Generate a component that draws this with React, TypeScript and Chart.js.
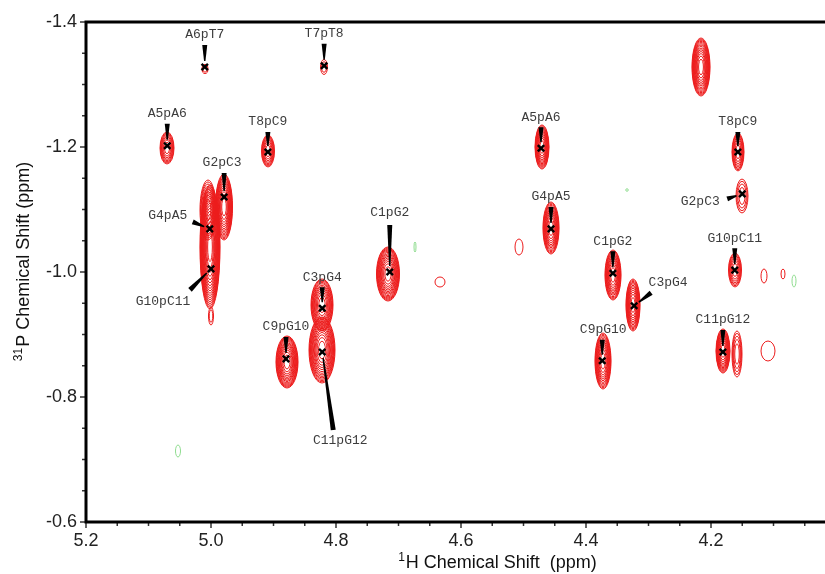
import { useEffect, useRef } from "react";
import { Chart, registerables } from "chart.js";

Chart.register(...registerables);

// ---- Axis ranges and tick labels (ppm) ----
const xRange = [4.0176, 5.2];
const yRange = [-1.4, -0.6];
const xTickValues = [5.2, 5.0, 4.8, 4.6, 4.4, 4.2];
const xTickLabels = ["5.2", "5.0", "4.8", "4.6", "4.4", "4.2"];
const yTickValues = [-1.4, -1.2, -1.0, -0.8, -0.6];
const yTickLabels = ["-1.4", "-1.2", "-1.0", "-0.8", "-0.6"];
const minorStep = 0.05;

// ---- Assigned cross peaks (1H, 31P in ppm) ----
const peakNames = [
  "A6pT7", "T7pT8", "A5pA6", "T8pC9", "G2pC3", "G4pA5", "G10pC11", "C1pG2", "C3pG4", "C11pG12",
  "C9pG10", "A5pA6", "G4pA5", "C1pG2", "C3pG4", "C9pG10", "T8pC9", "G2pC3", "G10pC11", "C11pG12",
];
const peakShiftH = [
  5.010, 4.819, 5.070, 4.909, 4.979, 5.002, 5.000, 4.714, 4.822, 4.822,
  4.880, 4.472, 4.456, 4.357, 4.323, 4.374, 4.157, 4.150, 4.162, 4.181,
];
const peakShiftP = [
  -1.328, -1.330, -1.202, -1.192, -1.120, -1.069, -1.005, -1.000, -0.942, -0.872,
  -0.861, -1.198, -1.069, -0.998, -0.946, -0.858, -1.192, -1.125, -1.003, -0.872,
];

// ---- Contoured signals: centre, half widths (ppm), number of levels, sign ----
const contourShiftH = [
  5.0096, 4.8192, 5.0704, 4.9088, 4.9792, 5.0016, 5.0048, 5.0, 4.7168, 4.8224,
  4.8224, 4.8784, 4.6336, 4.4704, 4.456, 4.5072, 4.3568, 4.3248, 4.3728, 4.216,
  4.1568, 4.1504, 4.1616, 4.1808, 4.1584, 4.1152, 4.0848, 4.1088,
  5.0528, 4.6736, 4.0672, 4.3344,
];
const contourShiftP = [
  -1.3248, -1.328, -1.1984, -1.1936, -1.104, -1.04, -1.0992, -0.9296, -0.9968, -0.9472,
  -0.8752, -0.856, -0.984, -1.2, -1.0704, -1.04, -0.9952, -0.9472, -0.8576, -1.328,
  -1.192, -1.1216, -1.0032, -0.8736, -0.8688, -0.9936, -0.9968, -0.8736,
  -0.7136, -1.04, -0.9856, -1.1312,
];
const contourHalfH = [
  0.0048, 0.0056, 0.0112, 0.0104, 0.0136, 0.016, 0.0128, 0.004, 0.0184, 0.0176,
  0.0208, 0.0176, 0.008, 0.0112, 0.0128, 0.0064, 0.0128, 0.0112, 0.0128, 0.0144,
  0.0096, 0.0096, 0.0104, 0.0112, 0.008, 0.0048, 0.0032, 0.0112,
  0.004, 0.0016, 0.0032, 0.002,
];
const contourHalfP = [
  0.0072, 0.012, 0.0256, 0.0256, 0.0528, 0.0992, 0.048, 0.0144, 0.0432, 0.0416,
  0.0528, 0.0416, 0.008, 0.0352, 0.0416, 0.0128, 0.04, 0.0416, 0.0448, 0.0464,
  0.0304, 0.0272, 0.0272, 0.0352, 0.0368, 0.0112, 0.008, 0.016,
  0.0096, 0.008, 0.0096, 0.002,
];
const contourLevels = [
  2, 2, 8, 8, 14, 18, 8, 2, 14, 12,
  14, 14, 1, 12, 12, 1, 12, 12, 12, 14,
  8, 4, 7, 12, 5, 1, 1, 1,
  1, 1, 1, 1,
];
const contourSign = [
  1, 1, 1, 1, 1, 1, 1, 1, 1, 1,
  1, 1, 1, 1, 1, 1, 1, 1, 1, 1,
  1, 1, 1, 1, 1, 1, 1, 1,
  -1, -1, -1, -1,
];

// ---- Callout layout: label centre and pointer tail, pixel offsets from each peak ----
const calloutLabelDx = [0, 0, 0, 0, -2, -42, -48, 0, 0, 18, 0, 0, 0, 0, 34, 1, 0, -42, 0, 0];
const calloutLabelDy = [-32, -32, -32, -30, -34, -13, 33, -59, -31, 89, -32, -31, -32, -32, -23, -31, -30, 8, -32, -32];
const calloutTailDx = [0, 0, 0, 0, 0, -17, -21, 0, 0, 11, 0, 0, 0, 0, 17, 0, 0, -15, 0, 0];
const calloutTailDy = [-22, -22, -22, -20, -24, -7, 21, -47, -21, 78, -22, -21, -22, -22, -13, -21, -20, 5, -22, -22];

const POS_COLOR = "#ec1c1c";
const NEG_COLOR = "#8fdc8f";
const AXIS_FONT = '"Liberation Sans", Arial, sans-serif';
const LABEL_FONT = '13px "Liberation Mono", "Courier New", monospace';

function drawWedge(ctx: CanvasRenderingContext2D, sx: number, sy: number, ex: number, ey: number, w0: number, w1: number) {
  const dx = ex - sx;
  const dy = ey - sy;
  const len = Math.hypot(dx, dy) || 1;
  const nx = -dy / len;
  const ny = dx / len;
  ctx.beginPath();
  ctx.moveTo(sx + (nx * w0) / 2, sy + (ny * w0) / 2);
  ctx.lineTo(ex + (nx * w1) / 2, ey + (ny * w1) / 2);
  ctx.lineTo(ex - (nx * w1) / 2, ey - (ny * w1) / 2);
  ctx.lineTo(sx - (nx * w0) / 2, sy - (ny * w0) / 2);
  ctx.closePath();
  ctx.fill();
}

function drawSupText(ctx: CanvasRenderingContext2D, sup: string, main: string, cx: number, baseline: number) {
  ctx.font = `12px ${AXIS_FONT}`;
  const sw = ctx.measureText(sup).width;
  ctx.font = `18px ${AXIS_FONT}`;
  const mw = ctx.measureText(main).width;
  const start = cx - (sw + mw) / 2;
  ctx.textAlign = "left";
  ctx.textBaseline = "alphabetic";
  ctx.font = `12px ${AXIS_FONT}`;
  ctx.fillText(sup, start, baseline - 7);
  ctx.font = `18px ${AXIS_FONT}`;
  ctx.fillText(main, start + sw + 1, baseline);
}

// Nested elliptical contour rings for every signal, then callout pointers and labels
const spectrumPlugin = {
  id: "spectrum",
  beforeDatasetsDraw(chart: any) {
    const { ctx, chartArea, scales } = chart;
    const xs = scales.x;
    const ys = scales.y;
    ctx.save();
    ctx.beginPath();
    ctx.rect(chartArea.left, chartArea.top, chartArea.right - chartArea.left, chartArea.bottom - chartArea.top);
    ctx.clip();
    ctx.lineWidth = 1;
    contourShiftH.forEach((h, i) => {
      const cx = xs.getPixelForValue(h);
      const cy = ys.getPixelForValue(contourShiftP[i]);
      const rx = Math.abs(xs.getPixelForValue(h + contourHalfH[i]) - cx);
      const ry = Math.abs(ys.getPixelForValue(contourShiftP[i] + contourHalfP[i]) - cy);
      const n = contourLevels[i];
      ctx.strokeStyle = contourSign[i] > 0 ? POS_COLOR : NEG_COLOR;
      for (let k = n; k >= 1; k--) {
        const s = Math.sqrt(k / n);
        ctx.beginPath();
        ctx.ellipse(cx, cy, Math.max(rx * s, 0.6), Math.max(ry * s, 0.6), 0, 0, Math.PI * 2);
        ctx.stroke();
      }
    });

    // callouts
    peakNames.forEach((name, i) => {
      const px = xs.getPixelForValue(peakShiftH[i]);
      const py = ys.getPixelForValue(peakShiftP[i]);
      const sx = px + calloutTailDx[i];
      const sy = py + calloutTailDy[i];
      const dx = px - sx;
      const dy = py - sy;
      const len = Math.hypot(dx, dy) || 1;
      const gap = 6;
      const ex = px - (dx / len) * gap;
      const ey = py - (dy / len) * gap;
      ctx.fillStyle = "#000";
      drawWedge(ctx, sx, sy, ex, ey, 5, 1.4);
      ctx.fillStyle = "#3c3c3c";
      ctx.font = LABEL_FONT;
      ctx.textAlign = "center";
      ctx.textBaseline = "middle";
      ctx.fillText(name, px + calloutLabelDx[i], py + calloutLabelDy[i]);
    });
    ctx.restore();
  },
  afterDraw(chart: any) {
    const { ctx, chartArea, scales } = chart;
    const xs = scales.x;
    const ys = scales.y;
    const { left, right, top, bottom } = chartArea;
    ctx.save();
    // tick marks (major every 0.2, minor every 0.05)
    ctx.strokeStyle = "#333";
    ctx.lineWidth = 1.5;
    const nX = Math.round((xRange[1] - 4.0) / minorStep);
    for (let k = 0; k <= nX; k++) {
      const v = 4.0 + k * minorStep;
      if (v < xRange[0] - 1e-9) continue;
      const p = xs.getPixelForValue(v);
      const major = xTickValues.some((t) => Math.abs(t - v) < 1e-6);
      ctx.beginPath();
      ctx.moveTo(p, bottom);
      ctx.lineTo(p, bottom + (major ? 6 : 4));
      ctx.stroke();
    }
    const nY = Math.round((yRange[1] - yRange[0]) / minorStep);
    for (let k = 0; k <= nY; k++) {
      const v = yRange[0] + k * minorStep;
      const p = ys.getPixelForValue(v);
      const major = yTickValues.some((t) => Math.abs(t - v) < 1e-6);
      ctx.beginPath();
      ctx.moveTo(left, p);
      ctx.lineTo(left - (major ? 6 : 4), p);
      ctx.stroke();
    }
    // frame: left, bottom and top
    ctx.strokeStyle = "#000";
    ctx.lineWidth = 3;
    ctx.beginPath();
    ctx.moveTo(right, top);
    ctx.lineTo(left, top);
    ctx.lineTo(left, bottom);
    ctx.lineTo(right, bottom);
    ctx.stroke();

    // axis titles
    ctx.fillStyle = "#111";
    drawSupText(ctx, "1", "H Chemical Shift  (ppm)", 497, 568);
    ctx.translate(29, 262);
    ctx.rotate(-Math.PI / 2);
    drawSupText(ctx, "31", "P Chemical Shift (ppm)", 0, 0);
    ctx.restore();
  },
};

export default function App() {
  const canvasRef = useRef<HTMLCanvasElement | null>(null);

  useEffect(() => {
    document.body.style.margin = "0";
    const canvas = canvasRef.current;
    if (!canvas) return;
    const markers = peakShiftH.map((h, i) => ({ x: h, y: peakShiftP[i] }));
    const chart = new Chart(canvas, {
      type: "scatter",
      data: {
        datasets: [
          {
            label: "assigned peaks",
            data: markers,
            pointStyle: "crossRot",
            pointRadius: 4.5,
            pointBorderWidth: 2.4,
            borderColor: "#000",
            backgroundColor: "#000",
            clip: false,
          },
        ],
      },
      options: {
        animation: false,
        responsive: true,
        maintainAspectRatio: false,
        layout: { autoPadding: false, padding: { top: 22, left: 0, right: 0, bottom: 0 } },
        plugins: { legend: { display: false }, tooltip: { enabled: false } },
        scales: {
          x: {
            type: "linear",
            min: xRange[0],
            max: xRange[1],
            reverse: true,
            grid: { display: false, drawTicks: false },
            border: { display: false },
            afterBuildTicks: (scale: any) => {
              scale.ticks = xTickValues.map((v) => ({ value: v }));
            },
            afterFit: (scale: any) => {
              scale.height = 52;
              scale.paddingLeft = 0;
              scale.paddingRight = 0;
            },
            ticks: {
              autoSkip: false,
              maxRotation: 0,
              padding: 8,
              color: "#222",
              font: { family: AXIS_FONT, size: 18 },
              callback: (value: any) => {
                const idx = xTickValues.findIndex((t) => Math.abs(t - Number(value)) < 1e-6);
                return idx >= 0 ? xTickLabels[idx] : "";
              },
            },
          },
          y: {
            type: "linear",
            min: yRange[0],
            max: yRange[1],
            reverse: true,
            grid: { display: false, drawTicks: false },
            border: { display: false },
            afterBuildTicks: (scale: any) => {
              scale.ticks = yTickValues.map((v) => ({ value: v }));
            },
            afterFit: (scale: any) => {
              scale.width = 86;
              scale.paddingTop = 0;
              scale.paddingBottom = 0;
            },
            ticks: {
              autoSkip: false,
              padding: 9,
              color: "#222",
              font: { family: AXIS_FONT, size: 18 },
              callback: (value: any) => {
                const idx = yTickValues.findIndex((t) => Math.abs(t - Number(value)) < 1e-6);
                return idx >= 0 ? yTickLabels[idx] : "";
              },
            },
          },
        },
      },
      plugins: [spectrumPlugin],
    });
    return () => chart.destroy();
  }, []);

  return (
    <div style={{ width: 825, height: 574, position: "relative", background: "#fff" }}>
      <canvas ref={canvasRef} />
    </div>
  );
}
